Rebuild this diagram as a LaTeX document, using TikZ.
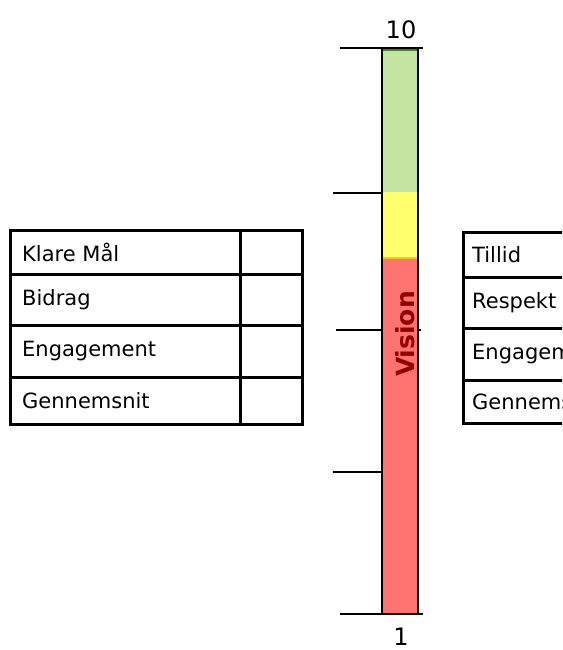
\documentclass[tikz,border=0pt]{standalone}
\usepackage{fontspec}
\setmainfont{DejaVu Sans}
\definecolor{barGreen}{HTML}{C4E4A2}
\definecolor{barTop}{HTML}{4F7A2A}
\definecolor{barYellow}{HTML}{FFFF6E}
\definecolor{barRed}{HTML}{FF7470}
\definecolor{barOrange}{HTML}{FFC030}
\definecolor{visionRed}{HTML}{960000}

\begin{document}
\begin{tikzpicture}[x=1pt,y=-1pt]
		\tikzstyle{every node}=[inner sep=0pt, font=\fontsize{21}{24}\selectfont]
		\tikzstyle{grid}=[line width=3pt]
		\tikzstyle{tick}=[line width=2pt]
		\clip (0,0) rectangle (562,650);

		\draw [tick] (340,48) -- (423,48);
		\draw [tick] (333,193) -- (382,193);
		\draw [tick] (336,330) -- (421,330);
		\draw [tick] (333,472) -- (382,472);
		\draw [tick] (340,614) -- (423,614);

		\fill [barGreen] (382,48) rectangle (418,192);
		\fill [barYellow] (382,192) rectangle (418,258);
		\fill [barRed] (382,258) rectangle (418,614);
		\draw [barOrange, line width=1.5pt] (382,258) -- (418,258);
		\draw [barTop, line width=3pt] (382,49.5) -- (418,49.5);
		\draw [line width=1.8pt] (382,48) rectangle (418,614);

		\node (top) at (401,30) {\fontsize{24}{28}\selectfont 10};
		\node (bottom) at (401,637) {\fontsize{24}{28}\selectfont 1};
		\node [rotate=90, text=visionRed] (vision) at (405,334) {\fontsize{25}{28}\selectfont\bfseries Vision};

		\draw [grid] (10,230) rectangle (302,424);
		\draw [grid] (240,230) -- (240,424);
		\foreach \y in {274,325,377}
			\draw [grid] (10,\y) -- (302,\y);
		\node [anchor=west] (klare) at (22,252) {Klare Mål};
		\node [anchor=west] (bidrag) at (22,300) {Bidrag};
		\node [anchor=west] (engl) at (22,351) {Engagement};
		\node [anchor=west] (gnsl) at (22,401) {Gennemsnit};

		\draw [grid] (463,232) rectangle (640,423);
		\foreach \y in {277,328,380}
			\draw [grid] (463,\y) -- (640,\y);
		\node [anchor=west] (tillid) at (472,255) {Tillid};
		\node [anchor=west] (respekt) at (472,303) {Respekt};
		\node [anchor=west] (engr) at (472,354) {Engagement};
		\node [anchor=west] (gnsr) at (472,402) {Gennemsnit};
	\end{tikzpicture}
\end{document}
